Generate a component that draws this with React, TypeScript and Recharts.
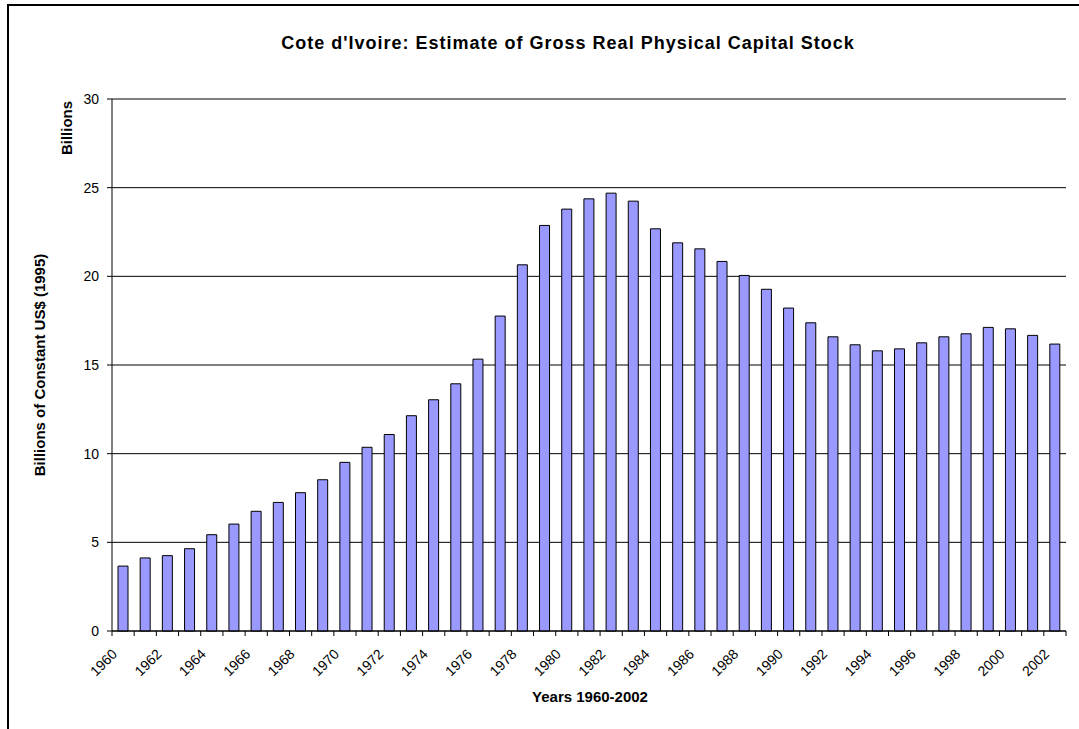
import React from "react";
import { BarChart, Bar, XAxis, YAxis, CartesianGrid, ReferenceLine } from "recharts";

const FONT = "'Liberation Sans', Arial, sans-serif";

const years = [
  "1960", "1961", "1962", "1963", "1964", "1965", "1966", "1967", "1968", "1969",
  "1970", "1971", "1972", "1973", "1974", "1975", "1976", "1977", "1978", "1979",
  "1980", "1981", "1982", "1983", "1984", "1985", "1986", "1987", "1988", "1989",
  "1990", "1991", "1992", "1993", "1994", "1995", "1996", "1997", "1998", "1999",
  "2000", "2001", "2002",
];

// billions of constant 1995 US$
const capitalStock = [
  3.66, 4.12, 4.25, 4.64, 5.43, 6.03, 6.75, 7.25, 7.8, 8.53,
  9.51, 10.36, 11.08, 12.14, 13.04, 13.94, 15.33, 17.76, 20.65, 22.87,
  23.79, 24.37, 24.69, 24.24, 22.68, 21.89, 21.55, 20.84, 20.05, 19.27,
  18.21, 17.38, 16.59, 16.14, 15.8, 15.91, 16.25, 16.59, 16.76, 17.12,
  17.04, 16.67, 16.18,
];

const yTicks = [0, 5, 10, 15, 20, 25, 30];

const xLabels = [
  "1960", "1962", "1964", "1966", "1968", "1970", "1972", "1974", "1976", "1978",
  "1980", "1982", "1984", "1986", "1988", "1990", "1992", "1994", "1996", "1998",
  "2000", "2002",
];

const data = years.map((year, i) => ({ year, value: capitalStock[i] }));

function YearTick(props: any) {
  const { x, y, payload, index } = props;
  const half = payload && payload.offset ? payload.offset : 11.1;
  const last = index === years.length - 1;
  const ax = x - 5;
  const ay = y + 24;
  return (
    <g>
      <line x1={x - half} x2={x - half} y1={y} y2={y + 5} stroke="#000" />
      {last && <line x1={x + half} x2={x + half} y1={y} y2={y + 5} stroke="#000" />}
      {xLabels.includes(payload.value) && (
        <text
          x={ax}
          y={ay}
          textAnchor="end"
          transform={`rotate(-45, ${ax}, ${ay})`}
          fontSize={14}
          fontFamily={FONT}
          fill="#000"
        >
          {payload.value}
        </text>
      )}
    </g>
  );
}

export default function App() {
  return (
    <div style={{ position: "absolute", left: 0, top: 0, width: 1079, height: 729, background: "#fff", overflow: "hidden" }}>
      <BarChart
        width={1079}
        height={729}
        data={data}
        margin={{ top: 99, right: 13, left: 0, bottom: 0 }}
        barSize={10}
      >
        <CartesianGrid vertical={false} stroke="#000" />
        <ReferenceLine y={30} stroke="#808080" />
        <XAxis
          dataKey="year"
          interval={0}
          height={98}
          tickLine={false}
          tickSize={0}
          tickMargin={0}
          axisLine={{ stroke: "#000" }}
          tick={<YearTick />}
        />
        <YAxis
          domain={[0, 30]}
          ticks={yTicks}
          width={112}
          tickSize={5}
          tickMargin={8}
          tickLine={{ stroke: "#000" }}
          axisLine={{ stroke: "#000" }}
          tick={{ fill: "#000", fontSize: 14, fontFamily: FONT }}
        />
        <YAxis
          yAxisId="right"
          orientation="right"
          width={0}
          domain={[0, 30]}
          tick={false}
          tickLine={false}
          axisLine={{ stroke: "#808080" }}
        />
        <Bar dataKey="value" fill="#9999FF" stroke="#000" strokeWidth={1} isAnimationActive={false} />
      </BarChart>
      <svg
        width={1079}
        height={729}
        style={{ position: "absolute", left: 0, top: 0, pointerEvents: "none" }}
        fontFamily={FONT}
      >
        <rect x={8} y={5} width={1200} height={900} fill="none" stroke="#000" strokeWidth={2} />
        <text x={568} y={49} textAnchor="middle" fontSize={18} fontWeight="bold" letterSpacing={1}>
          Cote d'Ivoire: Estimate of Gross Real Physical Capital Stock
        </text>
        <text x={72} y={128} textAnchor="middle" fontSize={15} fontWeight="bold" transform="rotate(-90, 72, 128)">
          Billions
        </text>
        <text x={44.5} y={365} textAnchor="middle" fontSize={15} fontWeight="bold" transform="rotate(-90, 44.5, 365)">
          Billions of Constant US$ (1995)
        </text>
        <text x={590} y={702} textAnchor="middle" fontSize={15} fontWeight="bold">
          Years 1960-2002
        </text>
      </svg>
    </div>
  );
}
